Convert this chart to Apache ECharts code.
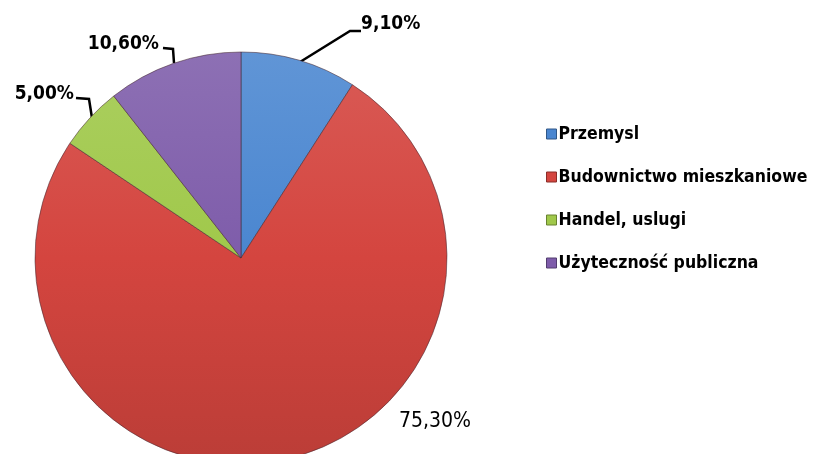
<!DOCTYPE html>
<html>
<head>
<meta charset="utf-8">
<script src="https://cdn.jsdelivr.net/npm/echarts@6/dist/echarts.min.js"></script>
<style>
  html, body { margin: 0; padding: 0; background: #fff; }
  #chart { width: 814px; height: 454px; }
</style>
</head>
<body>
<div id="chart"></div>
<script>
// dane wykresu
var categories = ['Przemysl', 'Budownictwo mieszkaniowe', 'Handel, uslugi', 'Użyteczność publiczna'];
var values = [9.1, 75.3, 5.0, 10.6];
var labelTexts = ['9,10%', '75,30%', '5,00%', '10,60%'];
var colors = ['#4a86d0', '#d4453f', '#a0c84a', '#7e5caa'];

// pozycje etykiet (srodek pionowy tekstu) i linii
var labelPos = [
  { x: 361, y: 24, align: 'left', bold: true, size: 19, line: [[300, 62], [350, 31], [361, 31]] },
  { x: 399, y: 422, align: 'left', bold: false, size: 21, line: null },
  { x: 74, y: 94, align: 'right', bold: true, size: 19, line: [[92, 118], [89, 99], [76, 98]] },
  { x: 159, y: 44, align: 'right', bold: true, size: 19, line: [[174, 63], [173, 49], [163, 48]] }
];

var cx = 241, cy = 258, r = 206;

function shade(hex, f) {
  var n = parseInt(hex.slice(1), 16);
  var c = [(n >> 16) & 255, (n >> 8) & 255, n & 255].map(function (v) {
    v = f > 0 ? v + (255 - v) * f : v * (1 + f);
    return Math.round(v);
  });
  return 'rgb(' + c.join(',') + ')';
}

var data = values.map(function (v, i) {
  return {
    name: categories[i],
    value: v,
    itemStyle: {
      color: {
        type: 'linear', x: cx, y: cy - r, x2: cx, y2: cy + r, global: true,
        colorStops: [
          { offset: 0, color: shade(colors[i], 0.12) },
          { offset: 0.5, color: colors[i] },
          { offset: 1, color: shade(colors[i], -0.12) }
        ]
      }
    },
    label: { fontWeight: labelPos[i].bold ? 'bold' : 'normal', fontSize: labelPos[i].size },
    labelLine: { show: !!labelPos[i].line }
  };
});

var myChart = echarts.init(document.getElementById('chart'));
myChart.setOption({
  animation: false,
  color: colors,
  legend: {
    orient: 'vertical',
    left: 541,
    top: 120,
    itemWidth: 10,
    itemHeight: 10,
    itemGap: 25,
    icon: 'rect',
    data: categories.map(function (c, i) {
      return { name: c, itemStyle: { color: colors[i], borderColor: shade(colors[i], -0.35), borderWidth: 1 } };
    }),
    textStyle: { fontFamily: 'DejaVu Sans Condensed', fontWeight: 'bold', fontSize: 17.5, color: '#000', padding: [0, 0, 0, -3] }
  },
  series: [{
    type: 'pie',
    center: [cx, cy],
    radius: r,
    startAngle: 90,
    clockwise: true,
    data: data,
    itemStyle: { borderColor: 'rgba(70,40,50,0.55)', borderWidth: 1 },
    label: {
      show: true,
      overflow: 'none',
      formatter: function (p) { return labelTexts[p.dataIndex]; },
      fontFamily: 'DejaVu Sans Condensed',
      fontSize: 19,
      color: '#000'
    },
    labelLine: { show: true, lineStyle: { color: '#000', width: 2.5 } },
    labelLayout: function (p) {
      var lp = labelPos[p.dataIndex];
      var res = { x: lp.x, y: lp.y, align: lp.align, verticalAlign: 'middle' };
      if (lp.line) res.labelLinePoints = lp.line;
      return res;
    },
    emphasis: { disabled: true }
  }]
});
</script>
</body>
</html>
